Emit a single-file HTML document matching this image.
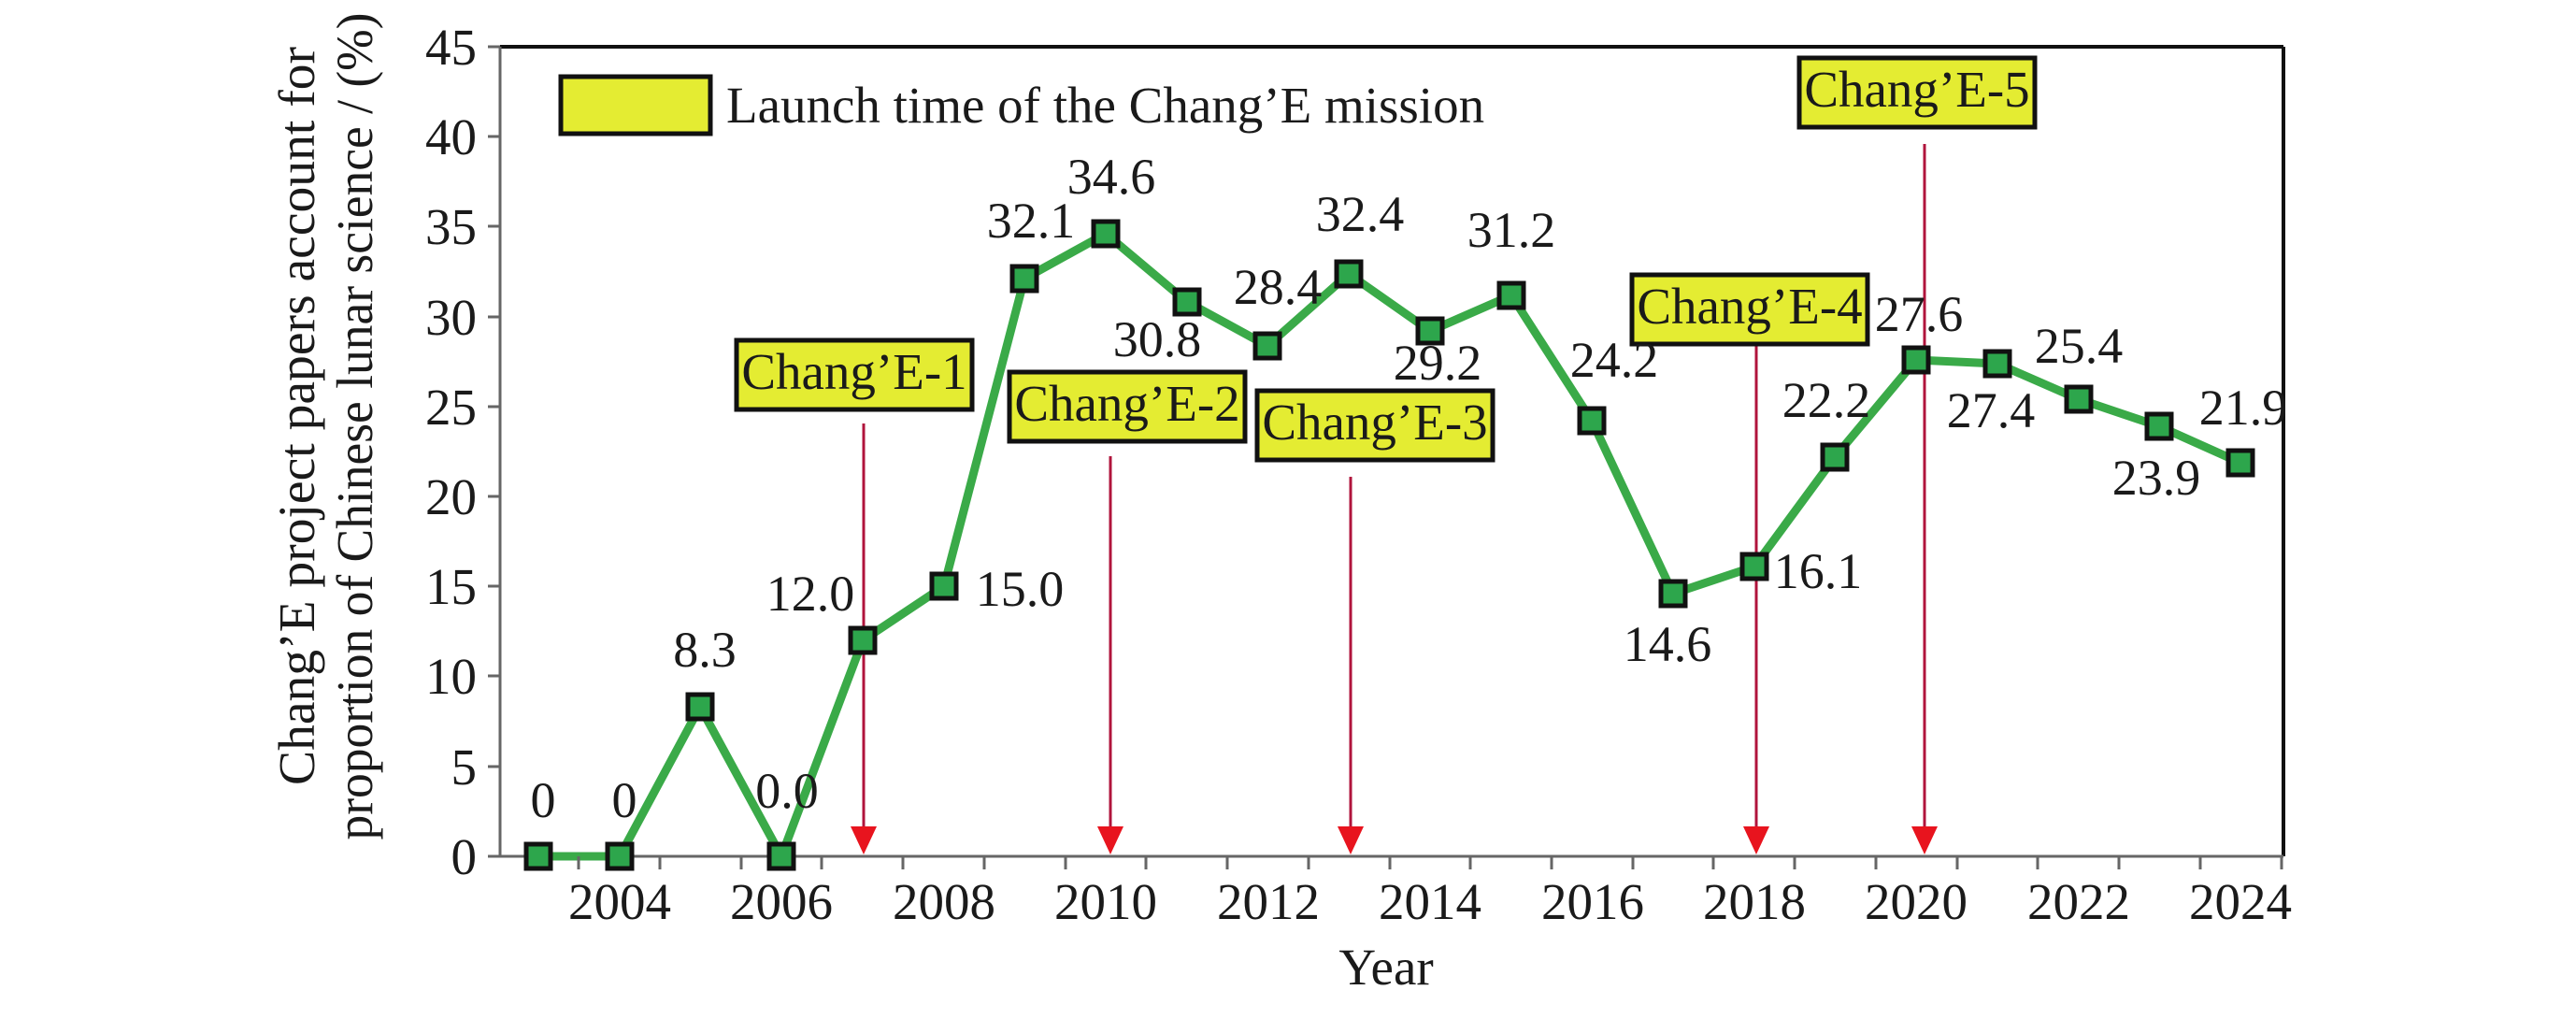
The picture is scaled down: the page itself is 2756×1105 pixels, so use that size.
<!DOCTYPE html>
<html><head><meta charset="utf-8"><style>
html,body{margin:0;padding:0;background:#fff;}
svg{display:block;}
text{font-family:"Liberation Serif",serif;fill:#1a1a1a;}
</style></head><body>
<svg width="2756" height="1105" viewBox="0 0 2756 1105" xmlns="http://www.w3.org/2000/svg">
<!-- axes -->
<line x1="535" y1="50" x2="2443" y2="50" stroke="#111" stroke-width="4"/>
<line x1="2443" y1="50" x2="2443" y2="916" stroke="#111" stroke-width="4"/>
<line x1="535" y1="50" x2="535" y2="916" stroke="#666" stroke-width="3"/>
<line x1="522" y1="916" x2="2443" y2="916" stroke="#666" stroke-width="3"/>
<g stroke="#666" stroke-width="3">
<line x1="522" y1="50" x2="535" y2="50"/><line x1="522" y1="146" x2="535" y2="146"/>
<line x1="522" y1="242" x2="535" y2="242"/><line x1="522" y1="339" x2="535" y2="339"/>
<line x1="522" y1="435" x2="535" y2="435"/><line x1="522" y1="531" x2="535" y2="531"/>
<line x1="522" y1="627" x2="535" y2="627"/><line x1="522" y1="723" x2="535" y2="723"/>
<line x1="522" y1="820" x2="535" y2="820"/>
</g>
<g stroke="#666" stroke-width="3" id="xt"></g>
<g font-size="55" text-anchor="end">
<text x="510" y="69">45</text><text x="510" y="165">40</text><text x="510" y="261">35</text>
<text x="510" y="358">30</text><text x="510" y="454">25</text><text x="510" y="550">20</text>
<text x="510" y="646">15</text><text x="510" y="742">10</text><text x="510" y="839">5</text>
<text x="510" y="935">0</text>
</g>
<g font-size="55" text-anchor="middle">
<text x="663" y="983">2004</text><text x="836" y="983">2006</text><text x="1010" y="983">2008</text>
<text x="1183" y="983">2010</text><text x="1357" y="983">2012</text><text x="1530" y="983">2014</text>
<text x="1704" y="983">2016</text><text x="1877" y="983">2018</text><text x="2050" y="983">2020</text>
<text x="2224" y="983">2022</text><text x="2397" y="983">2024</text>
<text x="1483" y="1053">Year</text>
</g>
<g font-size="55" text-anchor="middle">
<text transform="translate(336,445) rotate(-90)" textLength="790" lengthAdjust="spacingAndGlyphs">Chang’E project papers account for</text>
<text transform="translate(398,456) rotate(-90)" textLength="885" lengthAdjust="spacingAndGlyphs">proportion of Chinese lunar science / (%)</text>
</g>
<!-- legend -->
<rect x="600" y="82" width="160" height="61" fill="#e4ec32" stroke="#111" stroke-width="5"/>
<text x="777" y="131" font-size="55">Launch time of the Chang’E mission</text>
<!-- arrows -->
<g stroke="#b0143c" stroke-width="3">
<line x1="924" y1="453" x2="924" y2="890"/>
<line x1="1188" y1="488" x2="1188" y2="890"/>
<line x1="1445" y1="510" x2="1445" y2="890"/>
<line x1="1879" y1="325" x2="1879" y2="890"/>
<line x1="2059" y1="154" x2="2059" y2="890"/>
</g>
<g fill="#e8141e">
<polygon points="910,884 938,884 924,914"/>
<polygon points="1174,884 1202,884 1188,914"/>
<polygon points="1431,884 1459,884 1445,914"/>
<polygon points="1865,884 1893,884 1879,914"/>
<polygon points="2045,884 2073,884 2059,914"/>
</g>
<!-- annotation boxes -->
<g fill="#e4ec32" stroke="#111" stroke-width="5">
<rect x="788" y="364" width="252" height="74"/>
<rect x="1080" y="398" width="252" height="74"/>
<rect x="1345" y="418" width="252" height="74"/>
<rect x="1746" y="294" width="252" height="74"/>
<rect x="1925" y="62" width="252" height="74"/>
</g>
<g font-size="55" text-anchor="middle">
<text x="914" y="416">Chang’E-1</text>
<text x="1206" y="450">Chang’E-2</text>
<text x="1471" y="470">Chang’E-3</text>
<text x="1872" y="346">Chang’E-4</text>
<text x="2051" y="114">Chang’E-5</text>
</g>
<!-- series -->
<polyline fill="none" stroke="#3aaa48" stroke-width="9" stroke-linejoin="round" points="576,916 663,916 749,756 836,916 923,685 1010,627 1096,298 1183,250 1270,323 1356,370 1443,293 1530,354 1617,316 1703,450 1790,635 1877,606 1963,489 2050,385 2137,389 2224,427 2310,456 2397,495"/>
<g fill="#2da64c" stroke="#111" stroke-width="5">
<rect x="563" y="903" width="26" height="26"/><rect x="650" y="903" width="26" height="26"/>
<rect x="736" y="743" width="26" height="26"/><rect x="823" y="903" width="26" height="26"/>
<rect x="910" y="672" width="26" height="26"/><rect x="997" y="614" width="26" height="26"/>
<rect x="1083" y="285" width="26" height="26"/><rect x="1170" y="237" width="26" height="26"/>
<rect x="1257" y="310" width="26" height="26"/><rect x="1343" y="357" width="26" height="26"/>
<rect x="1430" y="280" width="26" height="26"/><rect x="1517" y="341" width="26" height="26"/>
<rect x="1604" y="303" width="26" height="26"/><rect x="1690" y="437" width="26" height="26"/>
<rect x="1777" y="622" width="26" height="26"/><rect x="1864" y="593" width="26" height="26"/>
<rect x="1950" y="476" width="26" height="26"/><rect x="2037" y="372" width="26" height="26"/>
<rect x="2124" y="376" width="26" height="26"/><rect x="2211" y="414" width="26" height="26"/>
<rect x="2297" y="443" width="26" height="26"/><rect x="2384" y="482" width="26" height="26"/>
</g>
<!-- value labels -->
<g font-size="54" text-anchor="middle">
<text x="581" y="874">0</text><text x="668" y="874">0</text>
<text x="754" y="713">8.3</text><text x="842" y="864">0.0</text>
<text x="867" y="653">12.0</text><text x="1091" y="648">15.0</text>
<text x="1103" y="254">32.1</text><text x="1189" y="207">34.6</text>
<text x="1238" y="381">30.8</text><text x="1367" y="325">28.4</text>
<text x="1455" y="247">32.4</text><text x="1538" y="406">29.2</text>
<text x="1617" y="264">31.2</text><text x="1727" y="403">24.2</text>
<text x="1784" y="707">14.6</text><text x="1945" y="629">16.1</text>
<text x="1954" y="446">22.2</text><text x="2053" y="354">27.6</text>
<text x="2130" y="457">27.4</text><text x="2224" y="388">25.4</text>
<text x="2307" y="529">23.9</text><text x="2400" y="454">21.9</text>
</g>
<!-- x minor ticks -->
<g stroke="#666" stroke-width="3">
<line x1="619" y1="916" x2="619" y2="930"/><line x1="706" y1="916" x2="706" y2="930"/>
<line x1="793" y1="916" x2="793" y2="930"/><line x1="879" y1="916" x2="879" y2="930"/>
<line x1="966" y1="916" x2="966" y2="930"/><line x1="1053" y1="916" x2="1053" y2="930"/>
<line x1="1140" y1="916" x2="1140" y2="930"/><line x1="1226" y1="916" x2="1226" y2="930"/>
<line x1="1313" y1="916" x2="1313" y2="930"/><line x1="1400" y1="916" x2="1400" y2="930"/>
<line x1="1487" y1="916" x2="1487" y2="930"/><line x1="1573" y1="916" x2="1573" y2="930"/>
<line x1="1660" y1="916" x2="1660" y2="930"/><line x1="1747" y1="916" x2="1747" y2="930"/>
<line x1="1833" y1="916" x2="1833" y2="930"/><line x1="1920" y1="916" x2="1920" y2="930"/>
<line x1="2007" y1="916" x2="2007" y2="930"/><line x1="2094" y1="916" x2="2094" y2="930"/>
<line x1="2180" y1="916" x2="2180" y2="930"/><line x1="2267" y1="916" x2="2267" y2="930"/>
<line x1="2354" y1="916" x2="2354" y2="930"/><line x1="2441" y1="916" x2="2441" y2="930"/>
</g>
</svg>
</body></html>
